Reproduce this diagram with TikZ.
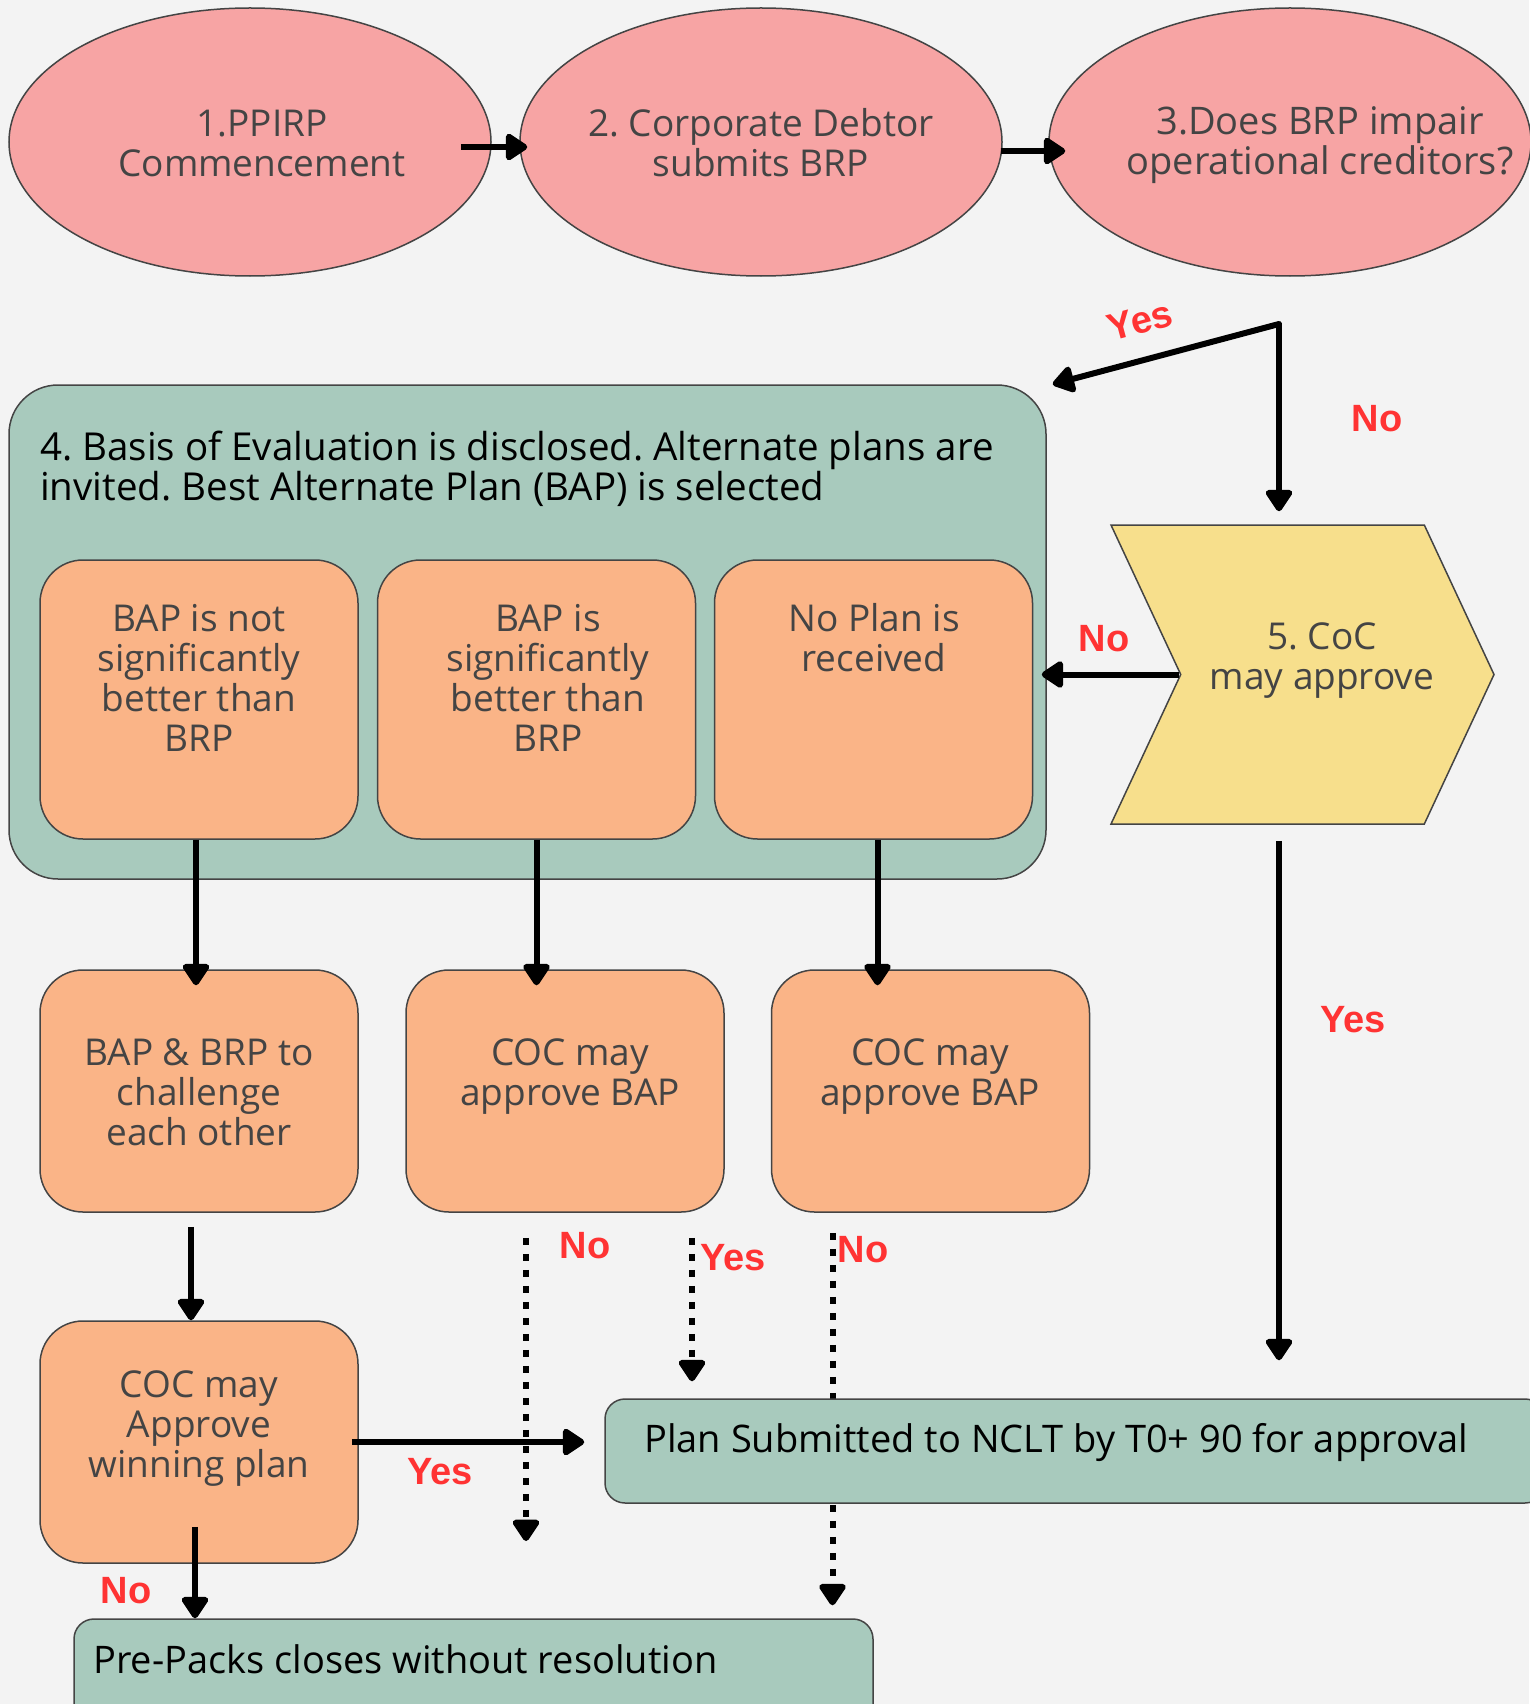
\documentclass[tikz,border=0pt]{standalone}
\usepackage{fontspec}
\setmainfont{Open Sans}
\newfontfamily\lblfont{Liberation Sans}
\usetikzlibrary{shapes.geometric,shapes.symbols,arrows.meta,positioning}
\frenchspacing

\definecolor{bgcol}{HTML}{F3F3F3}
\definecolor{outl}{HTML}{444444}
\definecolor{pinkfill}{HTML}{F7A4A4}
\definecolor{greenfill}{HTML}{A8CABD}
\definecolor{orangefill}{HTML}{FAB487}
\definecolor{yellowfill}{HTML}{F7DF8C}
\definecolor{txtgray}{HTML}{444444}
\definecolor{redlbl}{HTML}{FF3333}

\tikzset{
  ellip/.style={ellipse, draw=outl, line width=1.5pt, fill=pinkfill, minimum width=482pt, minimum height=268pt},
  obox/.style={rectangle, rounded corners=43pt, draw=outl, line width=1.5pt, fill=orangefill, minimum width=318pt},
  gbox/.style={rectangle, draw=outl, line width=1.5pt, fill=greenfill},
  txt/.style={text=txtgray, align=center, font=\fontsize{37}{40}\selectfont, inner sep=0pt},
  blacktxt/.style={text=black, font=\fontsize{38}{40}\selectfont, inner sep=0pt},
  lbl/.style={text=redlbl, font=\lblfont\bfseries\fontsize{38}{40}\selectfont, inner sep=0pt},
  arr/.style={line width=6pt, -{Triangle[length=24pt, width=30pt, round]}},
  dotarr/.style={arr, dash pattern=on 7pt off 9pt}
}

\begin{document}
\begin{tikzpicture}[x=1pt, y=-1pt]
  \fill[bgcol] (0,0) rectangle (1529,1704);
  \useasboundingbox (0,0) rectangle (1529,1704);

  \node[ellip] (e1) at (250,142) {};
  \node[txt] (e1txt) at (262,143) {1.PPIRP\\Commencement};
  \node[ellip] (e2) at (761,142) {};
  \node[txt] (e2txt) at (761,143) {2. Corporate Debtor\\submits BRP};
  \node[ellip] (e3) at (1290,142) {};
  \node[txt, font=\fontsize{38}{40}\selectfont] (e3txt) at (1320,145) {3.Does BRP impair\\operational creditors?};

  \node[gbox, rounded corners=49pt, minimum width=1037pt, minimum height=494pt] (evalbox) at (527.5,632) {};
  \node[blacktxt, align=left, anchor=west, font=\fontsize{38.5}{40}\selectfont] (evaltxt) at (40,469) {4. Basis of Evaluation is disclosed. Alternate plans are\\invited. Best Alternate Plan (BAP) is selected};

  \node[obox, minimum height=279pt] (bA) at (199,699.5) {};
  \node[txt] (bAtxt) at (199,678) {BAP is not\\significantly\\better than\\BRP};
  \node[obox, minimum height=279pt] (bB) at (536.5,699.5) {};
  \node[txt] (bBtxt) at (548,678) {BAP is\\significantly\\better than\\BRP};
  \node[obox, minimum height=279pt] (bC) at (873.5,699.5) {};
  \node[txt] (bCtxt) at (874,638) {No Plan is\\received};

  \node[signal, signal to=east, signal from=west, signal pointer angle=130, draw=outl, line width=1.5pt, fill=yellowfill, minimum width=383pt, minimum height=299pt] (coc) at (1302.5,674.5) {};
  \node[txt] (coctxt) at (1322,661) {5. CoC\\may approve};

  \node[obox, minimum height=242pt] (bD) at (199,1091) {};
  \node[txt] (bDtxt) at (199,1092) {BAP \& BRP to\\challenge\\each other};
  \node[obox, minimum height=242pt] (bE) at (565,1091) {};
  \node[txt] (bEtxt) at (570,1077) {COC may\\approve BAP};
  \node[obox, minimum height=242pt] (bF) at (930.5,1091) {};
  \node[txt] (bFtxt) at (930,1077) {COC may\\approve BAP};

  \node[obox, minimum height=242pt] (bG) at (199,1442) {};
  \node[txt] (bGtxt) at (199,1429) {COC may\\Approve\\winning plan};

  \node[gbox, rounded corners=20pt, minimum width=799pt, minimum height=111pt] (pre) at (473.5,1674.5) {};
  \node[blacktxt, anchor=west] (pretxt) at (93,1659) {Pre-Packs closes without resolution};

  \draw[dotarr] ([xshift=-98pt,yshift=-20pt]bF.south) -- ([xshift=-98pt]bF.south |- pre.north) [shorten >=13pt];

  \node[gbox, rounded corners=20pt, minimum width=940pt, minimum height=104pt] (plan) at (1075,1451) {};
  \node[blacktxt, anchor=west] (plantxt) at (644,1443) {Plan Submitted to NCLT by T0+ 90 for approval};

  \coordinate (fork) at (1279,324);

  \draw[arr] ([xshift=-31pt,yshift=-5pt]e1.east) -- ([xshift=8pt,yshift=-5pt]e2.west);
  \draw[arr] ([xshift=-2pt,yshift=-9pt]e2.east) -- ([xshift=17pt,yshift=-9pt]e3.west);
  \draw[arr, line cap=round] (fork) -- ([xshift=6pt]evalbox.north east);
  \draw[arr] (fork) -- (fork |- coc.north) [shorten >=13pt];
  \draw[arr] ([xshift=-1pt]coc.west) -- (coc.west -| evalbox.east) [shorten >=-5pt];
  \draw[arr] ([xshift=-3pt]bA.south) -- ([xshift=-3pt,yshift=-16pt]bA.south |- bD.north);
  \draw[arr] (bB.south) -- ([yshift=-16pt]bB.south |- bE.north);
  \draw[arr] ([xshift=4pt]bC.south) -- ([xshift=4pt,yshift=-16pt]bC.south |- bF.north);
  \draw[arr] ([xshift=-8pt,yshift=-14pt]bD.south) -- ([xshift=-8pt]bD.south |- bG.north);
  \draw[arr] ([xshift=-7pt]bG.east) -- (bG.east -| plan.west) [shorten >=20pt];
  \draw[arr] ([xshift=-4pt,yshift=37pt]bG.south) -- ([xshift=-4pt]bG.south |- pre.north);
  \draw[arr] ([yshift=-16pt]coc.south -| fork) -- (plan.north -| fork) [shorten >=38pt];

  \coordinate (noend) at (526,1541);
  \draw[dotarr] ([xshift=-39pt,yshift=-25pt]bE.south) -- (noend);
  \draw[dotarr] ([xshift=127pt,yshift=-25pt]bE.south) -- ([xshift=127pt]bE.south |- plan.north) [shorten >=17pt];

  \node[lbl, rotate=15] (lyes1) at (1140,321) {Yes};
  \node[lbl] (lno1) at (1377,419) {No};
  \node[lbl] (lno2) at (1104,639) {No};
  \node[lbl] (lyes2) at (1353,1020) {Yes};
  \node[lbl] (lno3) at (585,1246) {No};
  \node[lbl] (lyes3) at (733,1258) {Yes};
  \node[lbl] (lno4) at (863,1250) {No};
  \node[lbl] (lyes4) at (440,1472) {Yes};
  \node[lbl] (lno5) at (126,1591) {No};
\end{tikzpicture}
\end{document}
